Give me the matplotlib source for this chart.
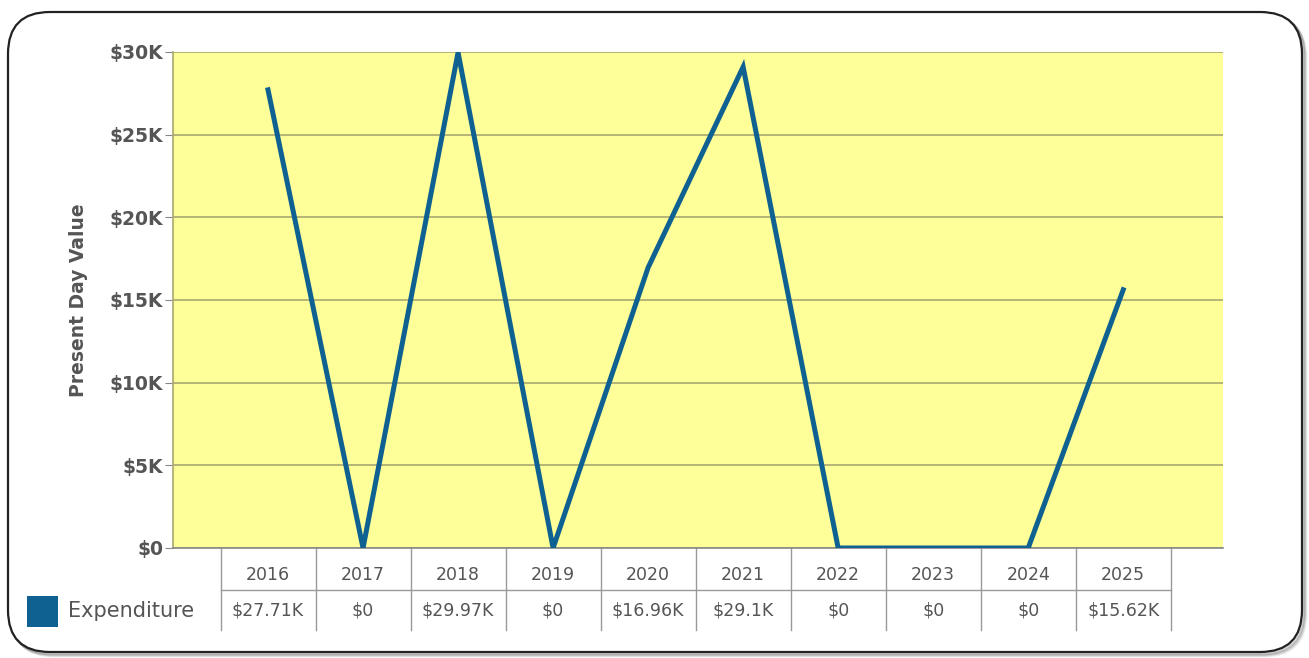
import matplotlib
matplotlib.use("Agg")
import matplotlib.pyplot as plt
from matplotlib.patches import FancyBboxPatch, Rectangle
from matplotlib.transforms import blended_transform_factory
from matplotlib.ticker import FuncFormatter

years = ["2016", "2017", "2018", "2019", "2020", "2021", "2022", "2023", "2024", "2025"]
expenditure = [27.71, 0, 29.97, 0, 16.96, 29.1, 0, 0, 0, 15.62]  # thousands $
table_labels = ["$27.71K", "$0", "$29.97K", "$0", "$16.96K", "$29.1K", "$0", "$0", "$0", "$15.62K"]
y_ticks = [0, 5, 10, 15, 20, 25, 30]
series_name = "Expenditure"
y_title = "Present Day Value"

W, H, DPI = 1309, 658, 100
fig = plt.figure(figsize=(W / DPI, H / DPI), dpi=DPI)
fig.patch.set_facecolor("white")

# rounded border with soft shadow
for off, alpha in [(4, 0.08), (3, 0.12), (2, 0.18)]:
    sh = FancyBboxPatch((8 / DPI + off / DPI, (658 - 652) / DPI - off / DPI),
                        (1302 - 8) / DPI, (652 - 12) / DPI,
                        boxstyle="round,pad=0,rounding_size=0.42",
                        transform=fig.dpi_scale_trans, facecolor="none",
                        edgecolor="black", linewidth=2.0, alpha=alpha, zorder=-3)
    fig.patches.append(sh)
border = FancyBboxPatch((8 / DPI, (658 - 652) / DPI), (1302 - 8) / DPI, (652 - 12) / DPI,
                        boxstyle="round,pad=0,rounding_size=0.42",
                        transform=fig.dpi_scale_trans, facecolor="white",
                        edgecolor="#222222", linewidth=1.6, zorder=-2)
fig.patches.append(border)

ax = fig.add_axes([173 / W, (H - 548) / H, (1223 - 173) / W, (548 - 52) / H])
ax.set_zorder(1)
ax.set_facecolor("#FFFF99")
x = list(range(len(years)))
ax.plot(x, expenditure, color="#0E6190", linewidth=3.6, solid_joinstyle="miter", zorder=3)
ax.set_xlim(-1, 10.05)
ax.set_ylim(0, 30)
ax.set_yticks(y_ticks)
ax.yaxis.set_major_formatter(FuncFormatter(lambda v, p: f"${int(v)}K" if v else "$0"))
ax.grid(axis="y", color="#A8A870", linewidth=1.2, zorder=1)
ax.set_xticks([])
for s in ["top", "right"]:
    ax.spines[s].set_visible(False)
ax.spines["left"].set_color("#A8A870")
ax.spines["left"].set_linewidth(1.2)
ax.spines["bottom"].set_color("#888888")
ax.spines["bottom"].set_linewidth(1.2)
ax.tick_params(axis="y", length=6, color="#888888", labelsize=13.5, labelcolor="#555555", pad=1)
for lab in ax.get_yticklabels():
    lab.set_fontweight("bold")
ax.set_ylabel(y_title, fontsize=13.5, fontweight="bold", color="#555555")
ax.yaxis.set_label_coords((88 - 173) / 1050, 0.5)

# data table below axes
tr = blended_transform_factory(ax.transData, fig.transFigure)
def fy(py):
    return (H - py) / H
line_kw = dict(color="#999999", linewidth=1.0, transform=tr, clip_on=False)
edges = [i - 0.5 for i in range(len(years) + 1)]
for e in edges:
    ax.plot([e, e], [fy(548), fy(630)], **line_kw)
ax.plot([edges[0], edges[-1]], [fy(590), fy(590)], **line_kw)
for i, (yr, lab) in enumerate(zip(years, table_labels)):
    ax.text(i, fy(575), yr, ha="center", va="center", fontsize=12.5, color="#555555",
            transform=tr, clip_on=False)
    ax.text(i, fy(611), lab, ha="center", va="center", fontsize=12.5, color="#555555",
            transform=tr, clip_on=False)

# legend swatch
fig.patches.append(Rectangle((27 / W, fy(627)), 31 / W, 31 / H, transform=fig.transFigure,
                             facecolor="#0E6190", edgecolor="none", zorder=2))
fig.text(68 / W, fy(611), series_name, ha="left", va="center", fontsize=15, color="#555555")

fig.savefig("out.png", dpi=DPI, facecolor="white")
